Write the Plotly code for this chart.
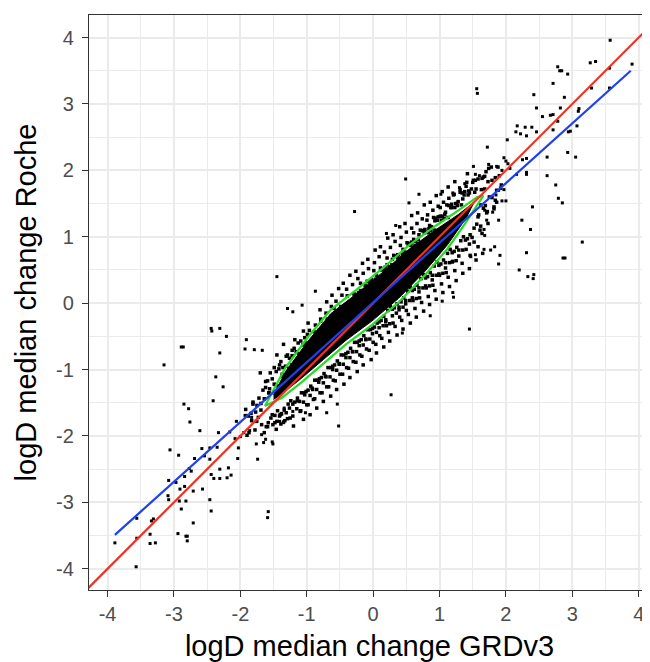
import plotly.graph_objects as go

# ---- tick labels ----
tick_vals = [-4, -3, -2, -1, 0, 1, 2, 3, 4]
tick_text = ["-4", "-3", "-2", "-1", "0", "1", "2", "3", "4"]
minor_vals = [-4.5, -3.5, -2.5, -1.5, -0.5, 0.5, 1.5, 2.5, 3.5]

# ---- sparse outlier points ----
out_x = [3.57, 3.90, 3.27, 3.35, 3.56, 2.78, 2.81, 2.84, 2.93, 2.71, 1.56, 1.57, 3.29, 3.56, 2.42,
         2.88, 2.46, 2.82, 3.10, 3.09, 2.67, 2.71, 2.55, 2.78, 3.07, 2.17, 2.29, 2.39, 2.71, 2.94,
         2.97, 2.15, 2.22, 2.31, 2.46, 2.02, 1.72, 2.93, 3.05, 2.62, 1.97, 2.25, 2.31, 1.86, 1.94,
         2.00, 2.03, 1.74, 2.06, 2.31, 2.31, 2.16, 2.62, 1.51, 1.54, 1.60, 2.75, 1.30, 1.38, 0.49,
         0.69, 1.02, 1.20, 1.97, 1.89, 1.85, 1.94, 2.00, 2.79, 2.85, 2.40, 0.54, -0.28, 1.68, 1.80,
         1.71, 1.89, 2.24, 2.37, 1.67, 0.34, 0.20, 1.83, 1.67, 1.77, 1.91, 3.15, 2.31, 2.86, 2.89,
         1.47, 1.54, 1.89, 2.20, 2.33, 2.42, 2.41, 1.20, 1.21, 1.04, 0.86, 1.45, 0.27, 0.44, 1.68,
         -1.45, -0.87, -2.44, -2.31, -2.43, -2.21, -2.89, -2.86, -3.15, -2.31, -1.91, -1.93, -1.79,
         -1.67, -1.29, -1.21, -1.07, -2.37, -2.26, -2.41, -2.85, -2.78, -2.76, -2.61, -2.33, -2.16,
         -3.06, -2.93, -2.69, -2.58, -2.46, -2.35, -2.54, -2.46, -2.77, -2.74, -2.31, -2.18, -2.14,
         -2.20, -2.31, -2.44, -2.40, -3.08, -2.84, -2.97, -2.84, -2.91, -2.57, -2.71, -3.09, -3.08,
         -2.92, -2.82, -2.46, -2.89, -2.44, -2.71, -3.56, -3.34, -3.31, -3.36, -2.94, -2.82, -2.80,
         -2.80, -3.36, -3.28, -3.89, -3.56, -3.57, -1.58, -1.59, -0.52, -0.54, -0.70, -1.02, -1.52,
         -1.51, -1.74, -1.62, -1.65, -1.68, -2.04, -2.03, -2.08, -2.00, -1.95, -1.93, -1.89, -1.83,
         -2.06, -1.75, -1.76, -1.86, -1.34, -1.38, -1.41, -1.21, -1.35]
out_y = [3.96, 3.60, 3.62, 3.64, 3.54, 3.56, 3.50, 3.50, 3.45, 3.31, 3.23, 3.16, 3.24, 3.24, 3.14,
         3.10, 2.94, 2.94, 2.93, 2.89, 2.83, 2.84, 2.81, 2.74, 2.67, 2.67, 2.65, 2.65, 2.61, 2.58,
         2.59, 2.58, 2.55, 2.52, 2.58, 2.46, 2.35, 2.27, 2.20, 2.20, 2.19, 2.16, 2.18, 2.06, 2.00,
         2.14, 2.10, 2.09, 2.03, 1.97, 1.94, 1.94, 1.92, 2.06, 1.94, 1.92, 1.78, 1.74, 1.80, 1.87,
         1.64, 1.64, 1.66, 1.71, 1.70, 1.63, 1.54, 1.54, 1.58, 1.51, 1.45, 1.51, 1.38, 1.40, 1.37,
         1.25, 1.25, 1.25, 1.11, 1.11, 1.17, 1.05, 0.85, 0.81, 0.80, 0.72, 0.92, 0.76, 0.68, 0.68,
         0.70, 0.73, 0.59, 0.50, 0.40, 0.43, 0.37, 0.16, 0.09, 0.03, -0.19, -0.39, -1.38, -0.45, 1.02,
         0.40, 0.18, -0.38, -0.38, -0.42, -0.50, -0.66, -0.66, -0.93, -0.75, -0.55, -0.69, -0.70,
         -0.71, -0.08, -0.13, -0.03, -1.11, -1.26, -1.47, -1.52, -1.59, -1.79, -1.92, -1.95, -1.94,
         -2.21, -2.29, -2.34, -2.19, -2.18, -2.17, -2.30, -2.35, -2.49, -2.53, -2.50, -2.48, -2.59,
         -2.63, -2.64, -2.58, -2.64, -2.67, -2.61, -2.70, -2.76, -2.80, -2.80, -2.83, -2.90, -2.96,
         -2.98, -2.98, -2.96, -3.10, -3.13, -3.31, -3.24, -3.28, -3.25, -3.48, -3.47, -3.51, -3.51,
         -3.58, -3.62, -3.61, -3.61, -3.54, -3.97, -3.14, -3.23, -1.85, -1.52, -1.65, -1.65, -2.09,
         -2.12, -2.35, -2.05, -2.10, -1.98, -2.34, -2.18, -2.04, -2.01, -1.95, -1.69, -1.69, -1.72,
         -1.78, -1.78, -2.12, -1.92, -1.58, -1.66, -1.78, -1.63, -1.80]

# ---- outer halo of the dense cloud ----
halo_outer_x = [-1.62, -1.55, -1.49, -1.41, -1.37, -1.31, -1.27, -1.22, -1.17, -1.13, -1.08, -1.03, -0.99,
                -0.96, -0.91, -0.87, -0.84, -0.79, -0.75, -0.71, -0.68, -0.63, -0.59, -0.56, -0.52, -0.47,
                -0.44, -0.40, -0.36, -0.31, -0.28, -0.23, -0.19, -0.15, -0.12, -0.07, -0.03, 0.02, 0.05,
                0.09, 0.13, 0.17, 0.21, 0.26, 0.29, 0.33, 0.37, 0.42, 0.45, 0.50, 0.53, 0.58, 0.61, 0.66,
                0.69, 0.74, 0.77, 0.82, 0.85, 0.90, 0.93, 0.98, 1.01, 1.06, 1.09, 1.14, 1.18, 1.22, 1.26,
                1.31, 1.35, 1.40, 1.45, 1.50, 1.55,
                -1.45, -1.18, -0.98, -0.80, -0.62, -0.45, -0.26, -0.08, 0.11, 0.30, 0.48, 0.67, 0.86, 1.04,
                1.23, 1.42, -1.70, -1.35, -1.05, -0.70, -0.52, -0.35, -0.16, 0.03, 0.22, 0.40, 0.58, 0.77,
                0.95, 1.13,
                -1.48, -1.40, -1.33, -1.26, -1.21, -1.14, -1.09, -1.03, -0.98, -0.92, -0.88, -0.82, -0.77,
                -0.72, -0.67, -0.61, -0.57, -0.51, -0.46, -0.41, -0.37, -0.31, -0.26, -0.21, -0.17, -0.11,
                -0.06, -0.01, 0.04, 0.09, 0.13, 0.19, 0.23, 0.29, 0.33, 0.39, 0.43, 0.49, 0.53, 0.59, 0.63,
                0.69, 0.73, 0.79, 0.83, 0.89, 0.93, 0.99, 1.03, 1.09, 1.13, 1.19, 1.23, 1.29, 1.34, 1.40,
                1.46, 1.52, 1.58, 1.64,
                -1.20, -0.95, -0.75, -0.55, -0.35, -0.15, 0.05, 0.25, 0.45, 0.65, 0.85, 1.05, 1.25, 1.45,
                1.65, -1.05, -0.85, -0.64, -0.44, -0.24, -0.03, 0.16, 0.36, 0.56, 0.76, 0.95, 1.15, 1.35,
                1.55,
                -1.88, -1.81, -1.76, -1.69, -1.64, -1.59, -1.57, -1.52, -1.46, -1.43, -1.39, -1.34, -1.29,
                1.62, 1.68, 1.71, 1.75, 1.79, 1.82, 1.86, 1.90, 1.58, 1.66, 1.73, 1.84, 1.93, 1.70, 1.61]
halo_outer_y = [-1.18, -1.05, -1.22, -0.93, -1.10, -0.80, -0.98, -0.71, -0.88, -0.60, -0.79, -0.52, -0.68,
                -0.41, -0.57, -0.33, -0.50, -0.24, -0.41, -0.15, -0.33, -0.05, -0.24, 0.03, -0.14, 0.12,
                -0.06, 0.21, 0.02, 0.28, 0.11, 0.37, 0.19, 0.45, 0.27, 0.52, 0.35, 0.61, 0.42, 0.70, 0.50,
                0.77, 0.58, 0.84, 0.66, 0.93, 0.73, 0.99, 0.81, 1.07, 0.88, 1.13, 0.96, 1.20, 1.03, 1.27,
                1.10, 1.33, 1.17, 1.40, 1.24, 1.46, 1.31, 1.52, 1.37, 1.58, 1.44, 1.64, 1.50, 1.71, 1.57,
                1.76, 1.66, 1.82, 1.72,
                -0.78, -0.55, -0.30, -0.10, 0.12, 0.30, 0.48, 0.66, 0.85, 1.03, 1.20, 1.36, 1.52, 1.68,
                1.83, 1.95, -1.05, -0.62, -0.42, 0.02, 0.22, 0.42, 0.60, 0.80, 0.98, 1.15, 1.32, 1.48,
                1.62, 1.75,
                -1.80, -1.68, -1.77, -1.58, -1.70, -1.47, -1.62, -1.38, -1.53, -1.28, -1.44, -1.19, -1.35,
                -1.10, -1.26, -1.00, -1.17, -0.91, -1.07, -0.82, -0.98, -0.73, -0.89, -0.64, -0.80, -0.55,
                -0.71, -0.46, -0.62, -0.37, -0.53, -0.28, -0.44, -0.19, -0.35, -0.10, -0.26, -0.01, -0.17,
                0.08, -0.08, 0.17, 0.01, 0.26, 0.10, 0.35, 0.19, 0.44, 0.29, 0.53, 0.39, 0.62, 0.49, 0.71,
                0.60, 0.81, 0.72, 0.92, 0.85, 1.05,
                -1.85, -1.68, -1.48, -1.30, -1.12, -0.93, -0.75, -0.57, -0.39, -0.21, -0.02, 0.16, 0.34,
                0.52, 0.75, -1.75, -1.58, -1.40, -1.22, -1.03, -0.85, -0.66, -0.48, -0.30, -0.12, 0.06,
                0.25, 0.45, 0.65,
                -1.70, -1.52, -1.78, -1.61, -1.44, -1.86, -1.35, -1.68, -1.90, -1.25, -1.82, -1.14, -1.74,
                1.48, 1.72, 1.36, 1.60, 1.85, 1.45, 1.70, 1.92, 1.30, 1.90, 1.20, 1.55, 1.78, 1.98, 1.10]

# ---- dense halo right around the contour ----
halo_inner = [
    (-1.92, -1.60), (-1.87, -1.95), (-1.84, -1.66), (-1.90, -1.99),
    (-1.81, -1.49), (-1.78, -1.91), (-1.75, -1.54), (-1.83, -1.77), (-1.77, -1.64),
    (-1.72, -1.43), (-1.68, -1.83), (-1.66, -1.31), (-1.73, -1.72), (-1.69, -1.51), (-1.64, -1.95),
    (-1.62, -1.27), (-1.58, -1.80), (-1.56, -1.29), (-1.61, -1.86), (-1.57, -1.35), (-1.54, -1.73), (-1.59, -1.17),
    (-1.52, -1.14), (-1.48, -1.69), (-1.46, -1.03), (-1.51, -1.83), (-1.47, -1.23), (-1.44, -1.62), (-1.49, -0.97), (-1.45, -1.78),
    (-1.42, -0.99), (-1.38, -1.67), (-1.36, -0.97), (-1.41, -1.70), (-1.37, -1.07), (-1.34, -1.61), (-1.39, -0.88), (-1.35, -1.79),
    (-1.32, -0.95), (-1.28, -1.52), (-1.26, -0.83), (-1.31, -1.65), (-1.27, -1.01), (-1.24, -1.47), (-1.29, -0.78), (-1.25, -1.73), (-1.23, -0.93),
    (-1.22, -0.79), (-1.18, -1.49), (-1.16, -0.73), (-1.21, -1.52), (-1.17, -0.91), (-1.14, -1.43), (-1.19, -0.68), (-1.15, -1.59), (-1.13, -0.83),
    (-1.12, -0.76), (-1.08, -1.35), (-1.06, -0.63), (-1.11, -1.48), (-1.07, -0.75), (-1.04, -1.35), (-1.09, -0.57), (-1.05, -1.49), (-1.03, -0.73), (-1.10, -1.63),
    (-1.02, -0.60), (-0.98, -1.31), (-0.96, -0.59), (-1.01, -1.33), (-0.97, -0.65), (-0.94, -1.25), (-0.99, -0.47), (-0.95, -1.39), (-0.93, -0.63), (-1.00, -1.53),
    (-0.92, -0.57), (-0.88, -1.16), (-0.86, -0.44), (-0.91, -1.30), (-0.87, -0.56), (-0.84, -1.16), (-0.89, -0.43), (-0.85, -1.30), (-0.83, -0.47), (-0.90, -1.45),
    (-0.82, -0.41), (-0.78, -1.12), (-0.76, -0.40), (-0.81, -1.14), (-0.77, -0.46), (-0.74, -1.06), (-0.79, -0.27), (-0.75, -1.20), (-0.73, -0.43), (-0.80, -1.35),
    (-0.72, -0.38), (-0.68, -0.97), (-0.66, -0.25), (-0.71, -1.11), (-0.67, -0.37), (-0.64, -0.97), (-0.69, -0.24), (-0.65, -1.11), (-0.63, -0.28), (-0.70, -1.26),
    (-0.62, -0.22), (-0.58, -0.93), (-0.56, -0.21), (-0.61, -0.95), (-0.57, -0.27), (-0.54, -0.87), (-0.59, -0.08), (-0.55, -1.01), (-0.53, -0.24), (-0.60, -1.16),
    (-0.52, -0.19), (-0.48, -0.78), (-0.46, -0.06), (-0.51, -0.92), (-0.47, -0.18), (-0.44, -0.78), (-0.49, -0.05), (-0.45, -0.92), (-0.43, -0.09), (-0.50, -1.07),
    (-0.42, -0.03), (-0.38, -0.74), (-0.36, -0.02), (-0.41, -0.76), (-0.37, -0.08), (-0.34, -0.68), (-0.39, 0.11), (-0.35, -0.82), (-0.33, -0.05), (-0.40, -0.97),
    (-0.32, 0.00), (-0.28, -0.59), (-0.26, 0.13), (-0.31, -0.73), (-0.27, 0.01), (-0.24, -0.59), (-0.29, 0.14), (-0.25, -0.73), (-0.23, 0.10), (-0.30, -0.88),
    (-0.22, 0.16), (-0.18, -0.55), (-0.16, 0.17), (-0.21, -0.57), (-0.17, 0.11), (-0.14, -0.49), (-0.19, 0.30), (-0.15, -0.63), (-0.13, 0.14), (-0.20, -0.78),
    (-0.12, 0.19), (-0.08, -0.40), (-0.06, 0.32), (-0.11, -0.54), (-0.07, 0.14), (-0.04, -0.40), (-0.09, 0.33), (-0.05, -0.54), (-0.03, 0.29), (-0.10, -0.69),
    (-0.02, 0.35), (0.02, -0.36), (0.04, 0.36), (-0.01, -0.38), (0.03, 0.30), (0.06, -0.30), (0.01, 0.49), (0.05, -0.44), (0.07, 0.33), (0.00, -0.59),
    (0.08, 0.39), (0.12, -0.26), (0.14, 0.52), (0.09, -0.28), (0.13, 0.34), (0.16, -0.20), (0.11, 0.53), (0.15, -0.34), (0.17, 0.49), (0.10, -0.49),
    (0.18, 0.54), (0.22, -0.11), (0.24, 0.55), (0.19, -0.25), (0.23, 0.49), (0.26, -0.05), (0.21, 0.68), (0.25, -0.31), (0.27, 0.52), (0.20, -0.34),
    (0.28, 0.58), (0.32, -0.07), (0.34, 0.71), (0.29, -0.09), (0.33, 0.53), (0.36, -0.01), (0.31, 0.72), (0.35, -0.15), (0.37, 0.68), (0.30, -0.30),
    (0.38, 0.73), (0.42, 0.02), (0.44, 0.74), (0.39, -0.06), (0.43, 0.68), (0.46, 0.08), (0.41, 0.87), (0.45, -0.06), (0.47, 0.71), (0.40, -0.21),
    (0.48, 0.77), (0.52, 0.18), (0.54, 0.90), (0.49, 0.04), (0.53, 0.72), (0.56, 0.24), (0.51, 0.91), (0.55, 0.04), (0.57, 0.87), (0.50, -0.11),
    (0.58, 0.92), (0.62, 0.21), (0.64, 0.93), (0.59, 0.19), (0.63, 0.87), (0.66, 0.27), (0.61, 1.06), (0.65, 0.07), (0.67, 0.90), (0.60, 0.04),
    (0.68, 0.96), (0.72, 0.37), (0.74, 1.09), (0.69, 0.23), (0.73, 0.91), (0.76, 0.43), (0.71, 1.10), (0.75, 0.23), (0.77, 1.06), (0.70, 0.08),
    (0.78, 1.11), (0.82, 0.40), (0.84, 1.12), (0.79, 0.38), (0.83, 1.06), (0.86, 0.46), (0.81, 1.25), (0.85, 0.26), (0.87, 1.09), (0.80, 0.23),
    (0.88, 1.15), (0.92, 0.56), (0.94, 1.28), (0.89, 0.42), (0.93, 1.10), (0.96, 0.62), (0.91, 1.29), (0.95, 0.42), (0.97, 1.25), (0.90, 0.27),
    (0.98, 1.30), (1.02, 0.59), (1.04, 1.31), (0.99, 0.57), (1.03, 1.25), (1.06, 0.65), (1.01, 1.44), (1.05, 0.45), (1.07, 1.28), (1.00, 0.42),
    (1.08, 1.34), (1.12, 0.75), (1.14, 1.47), (1.09, 0.61), (1.13, 1.29), (1.16, 0.81), (1.11, 1.48), (1.15, 0.61), (1.17, 1.44), (1.10, 0.46),
    (1.18, 1.49), (1.22, 0.78), (1.24, 1.50), (1.19, 0.76), (1.23, 1.44), (1.26, 0.84), (1.21, 1.63), (1.25, 0.64), (1.27, 1.47), (1.20, 0.63),
    (1.28, 1.53), (1.32, 0.94), (1.34, 1.66), (1.29, 0.80), (1.33, 1.48), (1.36, 1.00), (1.31, 1.67), (1.35, 0.80), (1.37, 1.63),
    (1.38, 1.68), (1.42, 0.97), (1.44, 1.69), (1.39, 0.95), (1.43, 1.63), (1.46, 1.03), (1.41, 1.82), (1.45, 0.89),
    (1.48, 1.72), (1.52, 1.13), (1.54, 1.85), (1.49, 0.99), (1.53, 1.67), (1.56, 1.19), (1.51, 1.85),
    (1.58, 1.87), (1.62, 1.16), (1.64, 1.88), (1.59, 1.33), (1.63, 1.71), (1.66, 1.43),
    (1.68, 1.91), (1.72, 1.38), (1.74, 2.03), (1.69, 1.47), (1.73, 1.83),
    (1.78, 2.05), (1.82, 1.42), (1.84, 1.89), (1.79, 1.59),
    (1.88, 2.05), (1.92, 1.73), (1.86, 1.52),
]

# ---- solid dense core (points overlap completely) ----
core_x = [-1.50, -1.32, -0.98, -0.64, -0.24, 0.15, 0.55, 0.95, 1.29, 1.52,
          1.40, 1.12, 0.78, 0.38, -0.02, -0.41, -0.75, -1.09, -1.38, -1.50]
core_y = [-1.38, -1.03, -0.57, -0.16, 0.15, 0.47, 0.82, 1.11, 1.34, 1.52,
          1.28, 0.88, 0.48, 0.07, -0.27, -0.56, -0.85, -1.14, -1.37, -1.45]

# ---- green density contour ----
green_x = [-1.63, -1.32, -0.98, -0.64, -0.24, 0.15, 0.55, 0.95, 1.29, 1.57, 1.66,
           1.40, 1.12, 0.78, 0.38, -0.02, -0.41, -0.75, -1.09, -1.38, -1.63]
green_y = [-1.55, -0.97, -0.51, -0.10, 0.21, 0.53, 0.88, 1.17, 1.40, 1.60, 1.62,
           1.22, 0.82, 0.42, 0.01, -0.33, -0.62, -0.91, -1.20, -1.43, -1.55]

# ---- identity line (red) and fitted line (blue) ----
red_x = [-4.40, 4.40]
red_y = [-4.40, 4.40]
blue_x = [-3.89, 3.88]
blue_y = [-3.49, 3.50]

halo_x = halo_outer_x + [p[0] for p in halo_inner]
halo_y = halo_outer_y + [p[1] for p in halo_inner]

fig = go.Figure()
fig.add_trace(go.Scatter(x=out_x, y=out_y, mode="markers",
                         marker=dict(symbol="square", size=3, color="black", line=dict(width=0)),
                         showlegend=False, hoverinfo="skip"))
fig.add_trace(go.Scatter(x=halo_x, y=halo_y, mode="markers",
                         marker=dict(symbol="square", size=3.5, color="black", line=dict(width=0)),
                         showlegend=False, hoverinfo="skip"))
fig.add_trace(go.Scatter(x=core_x, y=core_y, mode="lines", fill="toself", fillcolor="black",
                         line=dict(color="black", width=1), showlegend=False, hoverinfo="skip"))
fig.add_trace(go.Scatter(x=green_x, y=green_y, mode="lines", line=dict(color="#22DD22", width=2.2),
                         showlegend=False, hoverinfo="skip"))
fig.add_trace(go.Scatter(x=red_x, y=red_y, mode="lines", line=dict(color="#EE3322", width=2.2),
                         showlegend=False, hoverinfo="skip"))
fig.add_trace(go.Scatter(x=blue_x, y=blue_y, mode="lines", line=dict(color="#1E40EE", width=2.2),
                         showlegend=False, hoverinfo="skip"))

grid = "#EBEBEB"
font_family = "Liberation Sans, Arial, sans-serif"
axis_common = dict(
    tickmode="array", tickvals=tick_vals, ticktext=tick_text,
    showgrid=True, gridcolor=grid, gridwidth=1.6,
    minor=dict(tickmode="array", tickvals=minor_vals,
               showgrid=True, gridcolor=grid, gridwidth=0.9, ticks=""),
    zeroline=False, showline=True, linecolor="#333333", linewidth=1.2,
    ticks="outside", ticklen=6, tickwidth=1.2, tickcolor="#333333",
    tickfont=dict(family=font_family, size=20, color="#4D4D4D"),
    automargin=False,
)

# the page body adds an 8 px offset, so the figure is 8 px smaller than the window
fig.update_layout(
    width=642, height=654,
    margin=dict(l=81, r=0, t=7, b=72),
    paper_bgcolor="white", plot_bgcolor="white",
    xaxis=dict(range=[-4.28, 4.17], mirror=True,
               title=dict(text="logD median change GRDv3", standoff=13,
                          font=dict(family=font_family, size=29, color="black")),
               **axis_common),
    yaxis=dict(range=[-4.32, 4.34], mirror=False, ticklabelstandoff=4,
               title=dict(text="logD median change Roche", standoff=10,
                          font=dict(family=font_family, size=29, color="black")),
               **axis_common),
)

fig.write_html("out.html")
